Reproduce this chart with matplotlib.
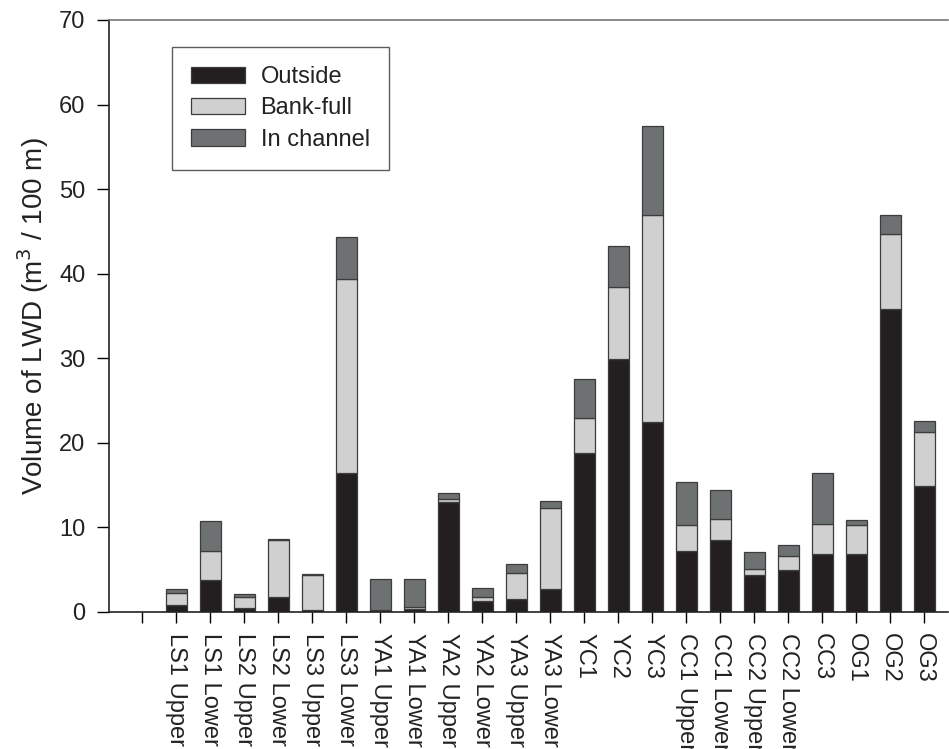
import matplotlib
matplotlib.use('Agg')
import matplotlib.pyplot as plt
import numpy as np

plt.rcParams['font.family'] = ['Liberation Sans', 'DejaVu Sans']

# reaches, left to right
sites = ['LS1 Upper', 'LS1 Lower', 'LS2 Upper', 'LS2 Lower', 'LS3 Upper', 'LS3 Lower',
         'YA1 Upper', 'YA1 Lower', 'YA2 Upper', 'YA2 Lower', 'YA3 Upper', 'YA3 Lower',
         'YC1', 'YC2', 'YC3', 'CC1 Upper', 'CC1 Lower', 'CC2 Upper', 'CC2 Lower',
         'CC3', 'OG1', 'OG2', 'OG3']

# LWD volume (m3 / 100 m) by position
outside = [0.8, 3.75, 0.44, 1.74, 0.15, 16.45, 0.05, 0.35, 12.98, 1.27, 1.5, 2.68,
           18.8, 29.9, 22.4, 7.18, 8.48, 4.34, 4.93, 6.86, 6.86, 35.8, 14.87]
bankfull = [1.45, 3.43, 1.34, 6.76, 4.25, 22.9, 0.2, 0.2, 0.4, 0.47, 3.12, 9.62,
            4.15, 8.5, 24.5, 3.08, 2.52, 0.75, 1.62, 3.55, 3.43, 8.9, 6.43]
in_channel = [0.47, 3.59, 0.35, 0.1, 0.1, 4.95, 3.6, 3.3, 0.65, 1.06, 0.98, 0.76,
              4.55, 4.85, 10.6, 5.08, 3.43, 2.0, 1.34, 6.04, 0.59, 2.2, 1.3]

fig = plt.figure(figsize=(9.49, 7.49), dpi=100)
ax = fig.add_axes([109 / 949, 1 - 611.7 / 749, (948 - 109) / 949, (611.7 - 20) / 749])

x = np.arange(1, len(sites) + 1)
w = 0.62
edge = dict(edgecolor='#3c3c3c', linewidth=0.9)
ax.bar(x, outside, w, color='#231f20', label='Outside', **edge)
ax.bar(x, bankfull, w, bottom=outside, color='#d0d0d0', label='Bank-full', **edge)
bottom2 = np.array(outside) + np.array(bankfull)
ax.bar(x, in_channel, w, bottom=bottom2, color='#6d7171', label='In channel', **edge)

ax.set_xlim(-0.98, 23.7)
ax.set_ylim(0, 70)
ax.set_yticks(range(0, 71, 10))
ax.set_xticks(np.arange(0, len(sites) + 1))
ax.set_xticklabels([''] + sites, rotation=270, fontsize=17)
ax.tick_params(axis='y', labelsize=17, length=9, width=1, direction='out', pad=8,
               labelcolor='#222222')
ax.tick_params(axis='x', length=8, width=1, direction='out', pad=7,
               labelcolor='#222222')

ax.spines['right'].set_visible(False)
for s in ['left', 'bottom', 'top']:
    ax.spines[s].set_linewidth(1.2)
    ax.spines[s].set_color('#222222')
ax.spines['top'].set_color('#777777')

ax.set_ylabel('Volume of LWD (m$^3$ / 100 m)', fontsize=20, labelpad=6,
              color='#222222')

leg = ax.legend(loc='upper left', bbox_to_anchor=(172 / 949, 1 - 47 / 749),
                bbox_transform=fig.transFigure, fontsize=17, fancybox=False,
                frameon=True, borderaxespad=0, handlelength=2.3, handleheight=0.68,
                borderpad=0.8, labelspacing=0.4, handletextpad=0.65)
leg.get_frame().set_edgecolor('#333333')
leg.get_frame().set_linewidth(1.0)
for t in leg.get_texts():
    t.set_color('#222222')

fig.savefig('out.png', dpi=100)
